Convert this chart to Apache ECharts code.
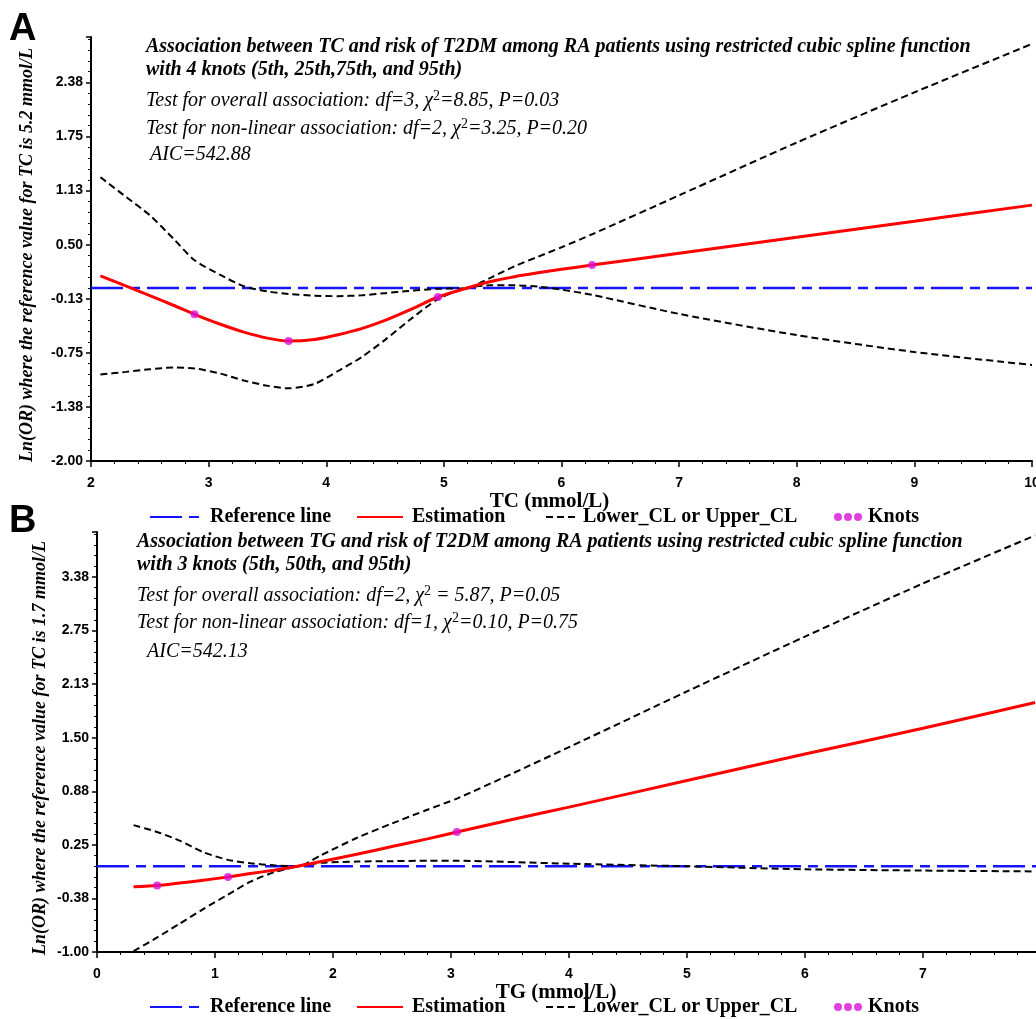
<!DOCTYPE html>
<html><head><meta charset="utf-8">
<script src="https://cdn.jsdelivr.net/npm/echarts@6/dist/echarts.min.js"></script>
<style>html,body{margin:0;padding:0;background:#fff}#c{width:1036px;height:1019px}</style>
</head><body><div id="c"></div>
<script>
// ---------- Panel A : TC ----------
const tcX     = [2.08, 2.3, 2.5, 2.7, 2.88, 3.1, 3.3, 3.5, 3.68, 3.9, 4.1, 4.3, 4.5, 4.7, 4.95, 5.2, 5.4, 5.6, 5.8, 6.0, 6.26, 7, 8, 9, 10];
const tcEst   = [0.14, 0.02, -0.09, -0.20, -0.305, -0.42, -0.51, -0.58, -0.614, -0.595, -0.54, -0.47, -0.375, -0.26, -0.105, 0.0, 0.075, 0.13, 0.175, 0.215, 0.264, 0.401, 0.586, 0.771, 0.957];
const tcUpper = [1.28, 1.05, 0.84, 0.57, 0.32, 0.15, 0.02, -0.04, -0.07, -0.09, -0.095, -0.085, -0.06, -0.035, -0.01, 0.0, 0.12, 0.25, 0.36, 0.47, 0.62, 1.07, 1.68, 2.26, 2.82];
const tcLower = [-1.0, -0.97, -0.94, -0.92, -0.93, -0.99, -1.07, -1.13, -1.16, -1.11, -0.96, -0.80, -0.60, -0.38, -0.13, 0.0, 0.03, 0.03, 0.015, -0.02, -0.08, -0.30, -0.545, -0.74, -0.89];
const tcKnotX = [2.88, 3.68, 4.95, 6.26];
const tcKnotY = [-0.305, -0.614, -0.105, 0.264];
const tcRefX  = [2, 10];
const tcRefY  = [0, 0];
const tcXTicks = [2, 3, 4, 5, 6, 7, 8, 9, 10];
const tcYTicks = [-2.0, -1.375, -0.75, -0.125, 0.5, 1.125, 1.75, 2.375];
const tcYMax = 2.9;

// ---------- Panel B : TG ----------
const tgX     = [0.31, 0.51, 0.7, 0.9, 1.11, 1.3, 1.5, 1.7, 1.9, 2.2, 2.5, 2.8, 3.05, 3.5, 4, 5, 6, 7, 7.95];
const tgEst   = [-0.24, -0.225, -0.195, -0.163, -0.124, -0.085, -0.045, 0.0, 0.055, 0.14, 0.23, 0.32, 0.40, 0.54, 0.69, 1.00, 1.31, 1.61, 1.91];
const tgUpper = [0.48, 0.40, 0.30, 0.165, 0.075, 0.035, 0.012, 0.0, 0.13, 0.33, 0.50, 0.66, 0.79, 1.07, 1.39, 2.04, 2.68, 3.30, 3.86];
const tgLower = [-0.99, -0.83, -0.67, -0.50, -0.33, -0.18, -0.07, 0.0, 0.04, 0.055, 0.06, 0.065, 0.065, 0.05, 0.03, 0.0, -0.035, -0.05, -0.06];
const tgKnotX = [0.51, 1.11, 3.05];
const tgKnotY = [-0.225, -0.124, 0.40];
const tgRefX  = [0, 8];
const tgRefY  = [0, 0];
const tgXTicks = [0, 1, 2, 3, 4, 5, 6, 7, 8];
const tgYTicks = [-1.0, -0.375, 0.25, 0.875, 1.5, 2.125, 2.75, 3.375];
const tgYMax = 3.9;

const legendNames = ['Reference line', 'Estimation', 'Lower_CL or Upper_CL', 'Knots'];

const zip = (xs, ys) => xs.map((x, i) => [x, ys[i]]);
const SERIF = '"Liberation Serif", "Times New Roman", serif';
const SANS = '"Liberation Sans Narrow", "Liberation Sans", Arial, sans-serif';
const BLUE = '#1414ff', RED = '#ff0000', KNOT = '#d810d8';

function xAxis(grid, ticks, name, shift) {
  return {
    gridIndex: grid, type: 'value', min: ticks[0], max: ticks[ticks.length - 1], interval: ticks[1] - ticks[0],
    axisLine: { show: true, onZero: false, lineStyle: { color: '#000', width: 2 } },
    axisTick: { show: true, length: 6, lineStyle: { color: '#000', width: 1.5 } },
    minorTick: { show: true, splitNumber: 5, length: 3, lineStyle: { color: '#000', width: 1 } },
    splitLine: { show: false }, minorSplitLine: { show: false },
    axisLabel: { color: '#000', fontFamily: SANS, fontWeight: 'bold', fontSize: 14, margin: 15, formatter: v => String(v) },
    name: name, nameLocation: 'middle', nameGap: 26,
    nameTextStyle: { color: '#000', fontFamily: SERIF, fontWeight: 'bold', fontSize: 21, padding: [0, shift, 0, 0] }
  };
}
function yAxis(grid, ticks, max) {
  return {
    gridIndex: grid, type: 'value', min: ticks[0], max: max, interval: ticks[1] - ticks[0],
    axisLine: { show: true, onZero: false, lineStyle: { color: '#000', width: 2 } },
    axisTick: { show: true, length: 5, lineStyle: { color: '#000', width: 1.5 } },
    minorTick: { show: true, splitNumber: 5, length: 3, lineStyle: { color: '#000', width: 1 } },
    splitLine: { show: false }, minorSplitLine: { show: false },
    axisLabel: { color: '#000', fontFamily: SANS, fontWeight: 'bold', fontSize: 14, margin: 8,
      showMaxLabel: false, formatter: v => v.toFixed(2) }
  };
}
function panelSeries(idx, refX, refY, xs, est, up, lo, kx, ky) {
  const base = { xAxisIndex: idx, yAxisIndex: idx, type: 'line', symbol: 'none', smooth: 0.25, animation: false };
  const cl = { color: '#000', width: 2, type: [7, 4] };
  return [
    Object.assign({}, base, { name: legendNames[0], smooth: false, data: zip(refX, refY), z: 2,
      itemStyle: { color: BLUE }, lineStyle: { color: BLUE, width: 2.5, type: [32, 7, 10, 7] } }),
    Object.assign({}, base, { name: legendNames[2], data: zip(xs, up), z: 3, itemStyle: { color: '#000' }, lineStyle: cl }),
    Object.assign({}, base, { name: legendNames[2], data: zip(xs, lo), z: 3, itemStyle: { color: '#000' }, lineStyle: cl }),
    Object.assign({}, base, { name: legendNames[1], data: zip(xs, est), z: 4,
      itemStyle: { color: RED }, lineStyle: { color: RED, width: 3 } }),
    { name: legendNames[3], type: 'scatter', xAxisIndex: idx, yAxisIndex: idx, data: zip(kx, ky), symbol: 'circle',
      symbolSize: 8, itemStyle: { color: KNOT }, z: 6, animation: false }
  ];
}
function legends(top) {
  const ts = pad => ({ color: '#000', fontFamily: SERIF, fontWeight: 'bold', fontSize: 20, padding: [0, 0, 0, pad] });
  const common = { top: top, padding: 0, selectedMode: false, itemGap: 0 };
  const dots = 'path://M0,4a4,4 0 1,0 8,0a4,4 0 1,0 -8,0zM10,4a4,4 0 1,0 8,0a4,4 0 1,0 -8,0zM20,4a4,4 0 1,0 8,0a4,4 0 1,0 -8,0z';
  return [
    Object.assign({}, common, { left: 149, data: [legendNames[0]], itemWidth: 49, itemHeight: 12, itemStyle: { opacity: 0 }, textStyle: ts(6) }),
    Object.assign({}, common, { left: 356, data: [legendNames[1]], itemWidth: 46, itemHeight: 12, itemStyle: { opacity: 0 }, textStyle: ts(4) }),
    Object.assign({}, common, { left: 545, data: [legendNames[2]], itemWidth: 32, itemHeight: 12, itemStyle: { opacity: 0 }, textStyle: ts(0) }),
    Object.assign({}, common, { left: 834, data: [{ name: legendNames[3], icon: dots }], itemWidth: 28, itemHeight: 8, textStyle: ts(1) })
  ];
}

const FS = 20;
function txt(x, y, text) {
  return { type: 'text', x: x, y: y, silent: true, style: { text: text, fill: '#000', verticalAlign: 'middle', align: 'left',
    font: 'italic ' + FS + 'px ' + SERIF } };
}
function richLine(x, y, a, b) {
  return { type: 'text', x: x, y: y, silent: true, style: {
    text: '{t|' + a + 'χ}{s|2}{t|' + b + '}', verticalAlign: 'middle', align: 'left',
    rich: { t: { fontSize: FS, fontStyle: 'italic', fontFamily: SERIF, fill: '#000', lineHeight: 24 },
            s: { fontSize: 14, verticalAlign: 'top', padding: [0, 0, 9, 0], fontFamily: SERIF, fill: '#000' } } } };
}
function boldTitle(x, y, text) {
  return { type: 'text', x: x, y: y, silent: true, style: { text: text, fill: '#000', verticalAlign: 'middle', align: 'left',
    font: 'italic bold ' + FS + 'px ' + SERIF } };
}
function yTitle(x, y, text) {
  return { type: 'text', x: x, y: y, rotation: Math.PI / 2, silent: true, style: { text: text, fill: '#000',
    verticalAlign: 'middle', align: 'center', font: 'italic bold 18px ' + SERIF } };
}
function panelLabel(x, y, text) {
  return { type: 'text', x: x, y: y, silent: true, style: { text: text, fill: '#000', verticalAlign: 'top', align: 'left',
    font: 'bold 38px "Liberation Sans", Arial, sans-serif' } };
}

const chart = echarts.init(document.getElementById('c'), null, { renderer: 'canvas' });
chart.setOption({
  backgroundColor: '#fff',
  animation: false,
  grid: [
    { left: 91, right: 4, top: 37, bottom: 1019 - 461, outerBoundsMode: 'none', containLabel: false },
    { left: 97, right: -5, top: 532, bottom: 1019 - 952, outerBoundsMode: 'none', containLabel: false }
  ],
  xAxis: [xAxis(0, tcXTicks, 'TC (mmol/L)', 24), xAxis(1, tgXTicks, 'TG (mmol/L)', 26)],
  yAxis: [yAxis(0, tcYTicks, tcYMax), yAxis(1, tgYTicks, tgYMax)],
  legend: legends(507).concat(legends(997)),
  series: panelSeries(0, tcRefX, tcRefY, tcX, tcEst, tcUpper, tcLower, tcKnotX, tcKnotY)
    .concat(panelSeries(1, tgRefX, tgRefY, tgX, tgEst, tgUpper, tgLower, tgKnotX, tgKnotY)),
  graphic: [
    panelLabel(9, 11, 'A'),
    panelLabel(9, 503, 'B'),
    yTitle(27, 255, 'Ln(OR) where the reference value for TC is 5.2 mmol/L'),
    yTitle(40, 748, 'Ln(OR) where the reference value for TC is 1.7 mmol/L'),
    boldTitle(146, 47, 'Association between TC and risk of T2DM among RA patients using restricted cubic spline function'),
    boldTitle(146, 70, 'with 4 knots (5th, 25th,75th, and 95th)'),
    richLine(146, 101, 'Test for overall association: df=3, ', '=8.85, P=0.03'),
    richLine(146, 129, 'Test for non-linear association: df=2, ', '=3.25, P=0.20'),
    txt(150, 155, 'AIC=542.88'),
    boldTitle(137, 542, 'Association between TG and risk of T2DM among RA patients using restricted cubic spline function'),
    boldTitle(137, 565, 'with 3 knots (5th, 50th, and 95th)'),
    richLine(137, 596, 'Test for overall association: df=2, ', ' = 5.87, P=0.05'),
    richLine(137, 623, 'Test for non-linear association: df=1, ', '=0.10, P=0.75'),
    txt(147, 652, 'AIC=542.13')
  ]
});
</script>
</body></html>
